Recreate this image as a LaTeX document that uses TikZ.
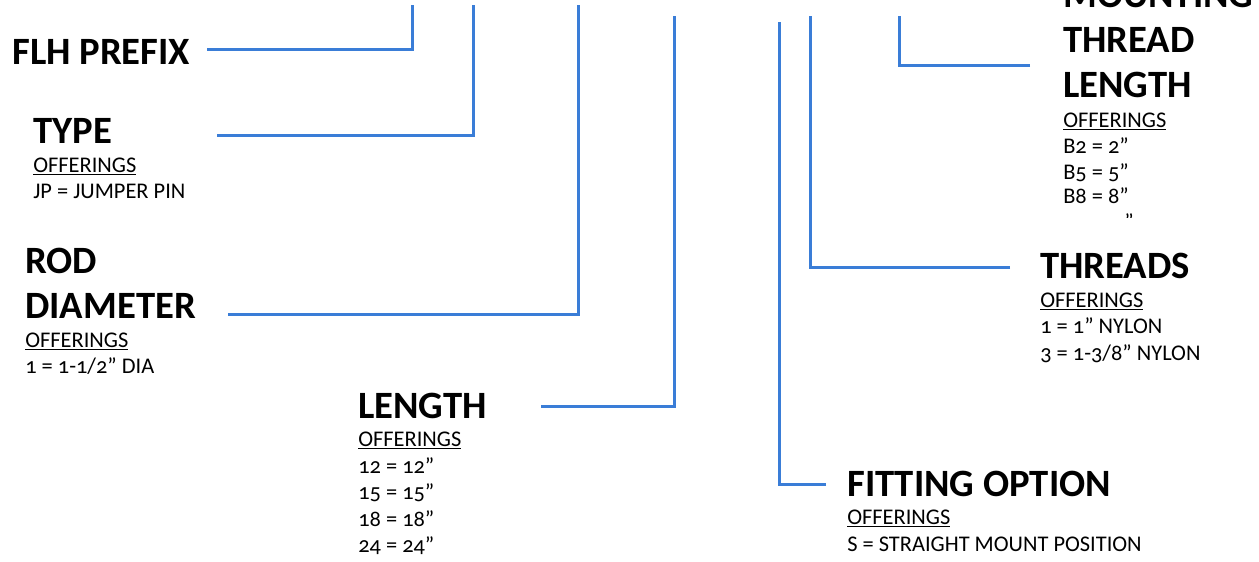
\documentclass[tikz,border=0pt]{standalone}
\usepackage{fontspec}
\setmainfont{Carlito}[Numbers=OldStyle]
\definecolor{lineblue}{RGB}{58,125,215}
\tikzset{
  x=0.75pt, y=-0.75pt,
  conn/.style={draw=lineblue, line width=2.25pt, line cap=butt, line join=miter},
  head/.style={anchor=base west, inner sep=0pt, font=\fontsize{29}{29}\selectfont\bfseries},
  body/.style={anchor=base west, inner sep=0pt, font=\fontsize{16.8}{16.8}\selectfont},
}
\begin{document}
\begin{tikzpicture}
\useasboundingbox (0,0) rectangle (1259,561);
\clip (0,0) rectangle (1259,561);
% headings
\node[head] (flh) at (12,64) {FLH PREFIX};
\node[head] (type) at (33,143) {TYPE};
\node[head] (rod1) at (25,273) {ROD};
\node[head] (rod) at (25,318) {DIAMETER};
\node[head] (len) at (358,418) {LENGTH};
\node[head] (fit) at (847,496) {FITTING OPTION};
\node[head] (thr) at (1040,278) {THREADS};
\node[head] (mtl1) at (1063,7) {MOUNTING};
\node[head] (mtl2) at (1063,52) {THREAD};
\node[head] (mtl) at (1063,97) {LENGTH};
% body texts
\node[body] (typeo) at (33,172.5) {\underline{OFFERINGS}};
\node[body] (typea) at (33,198.5) {JP = JUMPER PIN};
\node[body] (rodo) at (25,347.5) {\underline{OFFERINGS}};
\node[body] (roda) at (25,373.5) {1 = 1-1/2” DIA};
\node[body] (leno) at (358,446.5) {\underline{OFFERINGS}};
\node[body] (lena) at (358,473) {12 = 12”};
\node[body] (lenb) at (358,499.5) {15 = 15”};
\node[body] (lenc) at (358,526) {18 = 18”};
\node[body] (lend) at (358,552.5) {24 = 24”};
\node[body] (fito) at (847,524.5) {\underline{OFFERINGS}};
\node[body] (fita) at (847,551.5) {S = STRAIGHT MOUNT POSITION};
\node[body] (thro) at (1040,307.5) {\underline{OFFERINGS}};
\node[body] (thra) at (1040,333.5) {1 = 1” NYLON};
\node[body] (thrb) at (1040,360.5) {3 = 1-3/8” NYLON};
\node[body] (mtlo) at (1063,127.5) {\underline{OFFERINGS}};
\node[body] (mtla) at (1063,153.5) {B2 = 2”};
\node[body] (mtlb) at (1063,179.5) {B5 = 5”};
\node[body] (mtlc) at (1063,203.5) {B8 = 8”};
\begin{scope}
\clip (1050,200) rectangle (1200,217.5);
\node[body] (mtld) at (1124,229.5) {”};
\end{scope}
% connector end points
\coordinate (flhs) at (207,49);  \coordinate (flht) at (412,5);
\coordinate (types) at (217,135); \coordinate (typet) at (473,5);
\coordinate (rods) at (228,314);  \coordinate (rodt) at (578,5);
\coordinate (lens) at (541,406);  \coordinate (lent) at (674,16);
\coordinate (fits) at (826,484);  \coordinate (fitt) at (779,22);
\coordinate (thrs) at (1010,267); \coordinate (thrt) at (810,16);
\coordinate (mtls) at (1030,65);  \coordinate (mtlt) at (899,16);
% connectors
\draw[conn] (flhs) -| (flht);
\draw[conn] (types) -| (typet);
\draw[conn] (rods) -| (rodt);
\draw[conn] (lens) -| (lent);
\draw[conn] (fits) -| (fitt);
\draw[conn] (thrs) -| (thrt);
\draw[conn] (mtls) -| (mtlt);
\end{tikzpicture}
\end{document}
